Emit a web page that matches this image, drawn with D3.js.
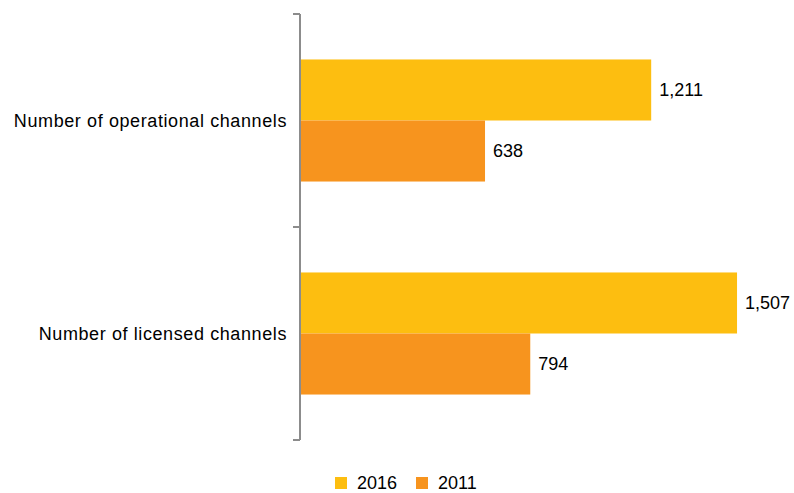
<!DOCTYPE html>
<html>
<head>
<meta charset="utf-8">
<script src="https://cdn.jsdelivr.net/npm/d3@7"></script>
<style>
  html, body { margin: 0; padding: 0; background: #fff; }
  svg { display: block; font-family: "Liberation Sans", Arial, sans-serif; }
</style>
</head>
<body>
<svg id="chart" width="794" height="493"></svg>
<script>
// Channel counts, by year
const categories = ["Number of operational channels", "Number of licensed channels"];
const years = ["2016", "2011"];
const values2016 = [1211, 1507];
const values2011 = [638, 794];
const colors = ["#FDBE10", "#F7941E"];

const rows = categories.map((c, i) => ({
  category: c,
  bars: [
    { year: years[0], value: values2016[i] },
    { year: years[1], value: values2011[i] }
  ]
}));

const svg = d3.select("#chart");

const x = d3.scaleLinear().domain([0, 1600]).range([300, 764]);
const y = d3.scaleBand().domain(categories).range([14, 440]).paddingInner(0).paddingOuter(0);
const yInner = d3.scaleBand().domain(years)
  .range([0, y.bandwidth()]).paddingInner(0).paddingOuter(0.745);

// category axis on the left, with ticks at band boundaries
const axisG = svg.append("g");
axisG.append("line")
  .attr("x1", x(0)).attr("x2", x(0))
  .attr("y1", y.range()[0]).attr("y2", y.range()[1])
  .attr("stroke", "#8c8c8c").attr("stroke-width", 2);
const boundaries = [y.range()[0], ...categories.map(c => y(c) + y.bandwidth())];
axisG.selectAll("line.tick").data(boundaries).join("line")
  .attr("class", "tick")
  .attr("x1", x(0) - 7).attr("x2", x(0))
  .attr("y1", d => d).attr("y2", d => d)
  .attr("stroke", "#8c8c8c").attr("stroke-width", 2);

axisG.selectAll("text.cat").data(categories).join("text")
  .attr("class", "cat")
  .attr("x", x(0) - 13)
  .attr("y", d => y(d) + y.bandwidth() / 2)
  .attr("dy", "0.35em")
  .attr("text-anchor", "end")
  .attr("font-size", 18)
  .attr("letter-spacing", 0.6)
  .attr("fill", "#000")
  .text(d => d);

// bars
const groups = svg.selectAll("g.group").data(rows).join("g")
  .attr("class", "group")
  .attr("transform", d => `translate(0,${y(d.category)})`);

groups.selectAll("rect").data(d => d.bars).join("rect")
  .attr("x", x(0) + 1)
  .attr("y", d => yInner(d.year))
  .attr("width", d => x(d.value) - x(0) - 1)
  .attr("height", yInner.bandwidth())
  .attr("fill", d => colors[years.indexOf(d.year)]);

groups.selectAll("text").data(d => d.bars).join("text")
  .attr("x", d => x(d.value) + 8)
  .attr("y", d => yInner(d.year) + yInner.bandwidth() / 2)
  .attr("dy", "0.35em")
  .attr("font-size", 18)
  .attr("fill", "#000")
  .text(d => d3.format(",")(d.value));

// legend
const legend = svg.append("g").attr("transform", "translate(335,477)");
const legendX = [0, 81];
years.forEach((yr, i) => {
  legend.append("rect")
    .attr("x", legendX[i]).attr("y", 0)
    .attr("width", 12).attr("height", 12)
    .attr("fill", colors[i]);
  legend.append("text")
    .attr("x", legendX[i] + 22).attr("y", 6)
    .attr("dy", "0.35em")
    .attr("font-size", 18)
    .attr("fill", "#000")
    .text(yr);
});
</script>
</body>
</html>
